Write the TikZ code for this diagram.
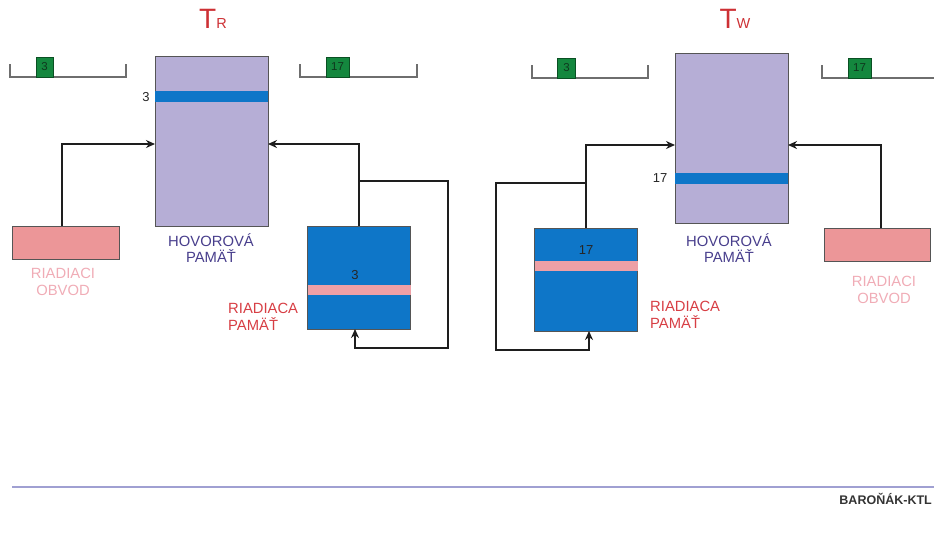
\documentclass[tikz,border=0pt]{standalone}
\usepackage{fontspec}
\setmainfont{Liberation Sans}
\usetikzlibrary{positioning,arrows.meta}

\definecolor{lavender}{RGB}{182,174,214}
\definecolor{memblue}{RGB}{14,118,200}
\definecolor{rosepink}{RGB}{236,150,152}
\definecolor{bandpink}{RGB}{238,160,166}
\definecolor{cellgreen}{RGB}{20,135,62}
\definecolor{celledge}{RGB}{10,80,35}
\definecolor{celltext}{RGB}{15,55,30}
\definecolor{titlered}{RGB}{205,48,52}
\definecolor{labelblue}{RGB}{72,62,140}
\definecolor{labelpink}{RGB}{240,172,182}
\definecolor{labelred}{RGB}{215,62,68}
\definecolor{edgegray}{RGB}{85,85,85}
\definecolor{slotgray}{RGB}{110,110,110}
\definecolor{wiregray}{RGB}{30,30,30}
\definecolor{rulelav}{RGB}{160,160,210}

\newcommand{\lblfont}{\fontsize{14.8}{16.5}\selectfont}
\newcommand{\numfont}{\fontsize{13}{15}\selectfont}
\newcommand{\cellfont}{\fontsize{11.5}{13}\selectfont}
\newcommand{\titbig}{\fontsize{28}{30}\selectfont}
\newcommand{\titsmall}{\fontsize{14.5}{16}\selectfont}

\tikzset{
  hovbox/.style={draw=edgegray, fill=lavender, line width=0.9pt,
    minimum width=113pt, minimum height=170pt, inner sep=0pt, outer sep=0pt},
  ridbox/.style={draw=edgegray, fill=memblue, line width=0.9pt,
    minimum width=103pt, minimum height=103pt, inner sep=0pt, outer sep=0pt},
  obvbox/.style={draw=edgegray, fill=rosepink, line width=0.9pt,
    minimum width=107pt, minimum height=33pt, inner sep=0pt, outer sep=0pt},
  cellbox/.style={draw=celledge, fill=cellgreen, line width=0.8pt,
    minimum height=20pt, inner sep=0pt, font=\cellfont, text=celltext},
  slotline/.style={draw=slotgray, line width=1.2pt},
  wire/.style={draw=wiregray, line width=1.6pt},
  numtxt/.style={inner sep=0pt, font=\numfont, text=black!85},
  titletxt/.style={inner sep=0pt, anchor=base, text=titlered},
  lbl/.style={inner sep=0pt, font=\lblfont, align=center},
}

\begin{document}
\begin{tikzpicture}[x=1pt,y=-1pt,>={Stealth[length=9pt,width=8pt]}]
  \path[use as bounding box,clip] (0,0) rectangle (934,539);

  % ===== T_R =====
  \node[titletxt] (titL) at (213,28) {{\titbig T}{\titsmall R}};

  % sloty
  \draw[slotline] (10,64) -- (10,77) -- (126,77) -- (126,64);
  \draw[slotline] (300,64) -- (300,77) -- (417,77) -- (417,64);
  \node[cellbox, minimum width=17pt] (celL1) at (44.5,67) {3};
  \node[cellbox, minimum width=23pt] (celL2) at (337.5,67) {17};

  % hovorova pamat
  \node[hovbox] (hovL) at (211.5,141) {};
  \fill[memblue] ([yshift=-35pt]hovL.north west) rectangle ([yshift=-46pt]hovL.north east);
  \node[numtxt] (nHovL) at (146,97) {3};
  \node[lbl, text=labelblue, anchor=north] (tHovL) at (211,233) {HOVOROVÁ\\PAMÄŤ};

  % riadiaci obvod
  \node[obvbox] (obvL) at (66,242.5) {};
  \node[lbl, text=labelpink, anchor=north] (tObvL) at (63,268) {RIADIACI\\OBVOD};

  % riadiaca pamat
  \node[ridbox] (ridL) at (359,277.5) {};
  \fill[bandpink] ([yshift=-59pt]ridL.north west) rectangle ([yshift=-69pt]ridL.north east);
  \node[numtxt] (nRidL) at (355,275) {3};
  \node[lbl, text=labelred, align=left, anchor=north west] (tRidL) at (228,303) {RIADIACA\\PAMÄŤ};

  % spoje
  \draw[wire,->] ([xshift=-4pt]obvL.north) |- ([yshift=-88pt]hovL.north west);
  \draw[wire,->] (ridL.north) |- ([yshift=-88pt]hovL.north east);
  \coordinate (brL) at (359,181);
  \coordinate (lpL) at (448,348);
  \draw[wire,->] (brL) -| (lpL) -| ([xshift=-4pt]ridL.south);

  % ===== T_W =====
  \node[titletxt] (titR) at (735,28) {{\titbig T}{\titsmall W}};

  % sloty
  \draw[slotline] (532,65) -- (532,78) -- (648,78) -- (648,65);
  \draw[slotline] (822,65) -- (822,78) -- (940,78);
  \node[cellbox, minimum width=18pt] (celR1) at (566.5,68) {3};
  \node[cellbox, minimum width=23pt] (celR2) at (859.5,68) {17};

  % hovorova pamat
  \node[hovbox] (hovR) at (731.5,138) {};
  \fill[memblue] ([yshift=-120pt]hovR.north west) rectangle ([yshift=-131pt]hovR.north east);
  \node[numtxt] (nHovR) at (660,178) {17};
  \node[lbl, text=labelblue, anchor=north] (tHovR) at (729,233) {HOVOROVÁ\\PAMÄŤ};

  % riadiaca pamat
  \node[ridbox] (ridR) at (586,279.5) {};
  \fill[bandpink] ([yshift=-33pt]ridR.north west) rectangle ([yshift=-43pt]ridR.north east);
  \node[numtxt] (nRidR) at (586,250) {17};
  \node[lbl, text=labelred, align=left, anchor=north west] (tRidR) at (650,301) {RIADIACA\\PAMÄŤ};

  % riadiaci obvod
  \node[obvbox, minimum width=106pt] (obvR) at (877,244.5) {};
  \node[lbl, text=labelpink, anchor=north] (tObvR) at (884,276) {RIADIACI\\OBVOD};

  % spoje
  \draw[wire,->] ([xshift=4pt]obvR.north) |- ([yshift=-92pt]hovR.north east);
  \draw[wire,->] (ridR.north) |- ([yshift=-92pt]hovR.north west);
  \coordinate (brR) at (586,183);
  \coordinate (lpR) at (496,350);
  \draw[wire,->] (brR) -| (lpR) -| ([xshift=3pt]ridR.south);

  % paticka
  \draw[rulelav, line width=1.2pt] (12,487) -- (934,487);
  \node[inner sep=0pt, anchor=base east, text=black!80, font=\fontsize{12.5}{15}\selectfont\bfseries] (sig) at (932,504) {BAROŇÁK-KTL};
\end{tikzpicture}
\end{document}
